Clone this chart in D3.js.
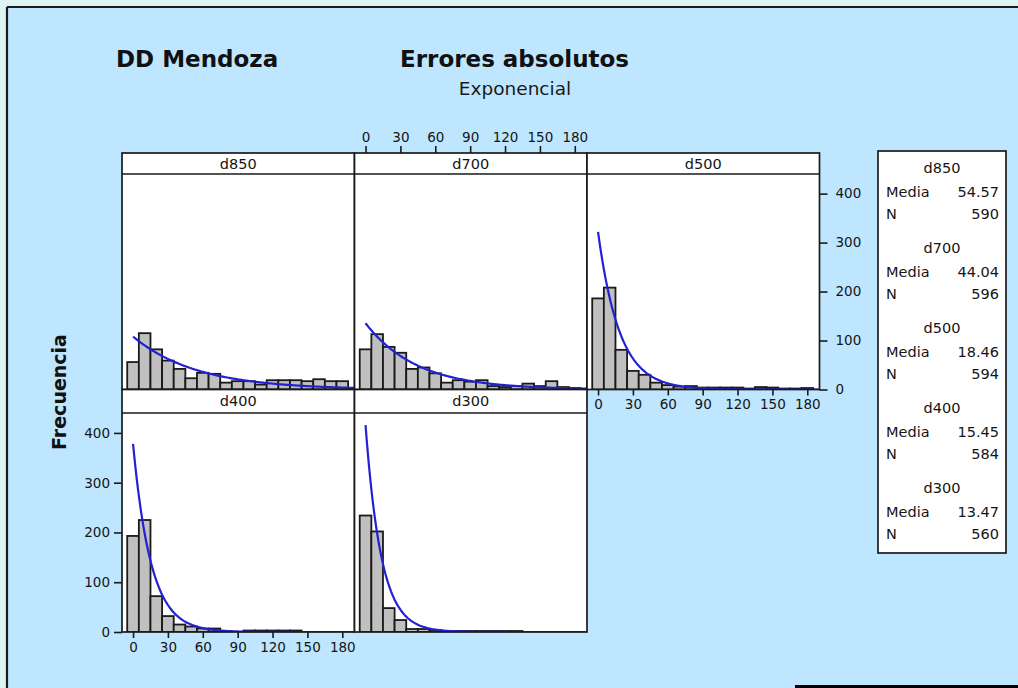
<!DOCTYPE html>
<html><head><meta charset="utf-8">
<script src="https://cdn.jsdelivr.net/npm/d3@7"></script>
<style>html,body{margin:0;padding:0;background:#ddf5f2;}svg{display:block;}</style>
</head><body>
<svg id="c" width="1018" height="688"></svg>
<script>
// ---------------- data ----------------
const panelNames = ["d850", "d700", "d500", "d400", "d300"];
const binMids = [0, 10, 20, 30, 40, 50, 60, 70, 80, 90, 100, 110, 120, 130, 140, 150, 160, 170, 180];
const countsD850 = [56, 115, 82, 59, 42, 23, 34, 32, 14, 17, 17, 10, 19, 19, 19, 17, 21, 17, 17];
const countsD700 = [82, 113, 87, 75, 42, 45, 33, 14, 19, 16, 19, 7, 5, 7, 12, 7, 17, 5, 3];
const countsD500 = [186, 208, 81, 38, 30, 14, 9, 6, 7, 4, 4, 4, 4, 2, 5, 4, 2, 2, 3];
const countsD400 = [193, 225, 72, 32, 15, 11, 7, 7, 2, 0, 3, 3, 3, 3, 3, 0, 0, 0, 0];
const countsD300 = [234, 202, 48, 24, 6, 6, 4, 2, 2, 2, 2, 2, 2, 2, 0, 0, 0, 0, 0];
const means = [54.57, 44.04, 18.46, 15.45, 13.47];
const ns = [590, 596, 594, 584, 560];
const meanLabels = ["54.57", "44.04", "18.46", "15.45", "13.47"];
const xTicks = [0, 30, 60, 90, 120, 150, 180];
const yTicks = [0, 100, 200, 300, 400];
const binWidth = 10;
const countsAll = [countsD850, countsD700, countsD500, countsD400, countsD300];

// ---------------- layout ----------------
const svg = d3.select("#c");
const FONT = "DejaVu Sans, Verdana, sans-serif";
svg.append("rect").attr("x", 0).attr("y", 0).attr("width", 1018).attr("height", 688).attr("fill", "#ddf5f2");
svg.append("rect").attr("x", 7).attr("y", 7).attr("width", 1011).attr("height", 681).attr("fill", "#bfe6ff");
svg.append("line").attr("x1", 7).attr("x2", 1018).attr("y1", 7).attr("y2", 7).attr("stroke", "#1a1a1a").attr("stroke-width", 2.2);
svg.append("line").attr("x1", 7).attr("x2", 7).attr("y1", 7).attr("y2", 688).attr("stroke", "#1a1a1a").attr("stroke-width", 2.2);
svg.append("rect").attr("x", 795).attr("y", 685).attr("width", 223).attr("height", 3).attr("fill", "#000");

// titles
svg.append("text").attr("x", 116).attr("y", 67).attr("font-family", FONT).attr("font-weight", "bold")
  .attr("font-size", 23).attr("fill", "#111").text("DD Mendoza");
svg.append("text").attr("x", 400).attr("y", 67).attr("font-family", FONT).attr("font-weight", "bold")
  .attr("font-size", 23).attr("fill", "#111").text("Errores absolutos");
svg.append("text").attr("x", 515).attr("y", 95).attr("text-anchor", "middle").attr("font-family", FONT)
  .attr("font-size", 18.5).attr("fill", "#1a1a1a").text("Exponencial");
svg.append("text").attr("transform", "translate(66,392) rotate(-90)").attr("text-anchor", "middle")
  .attr("font-family", FONT).attr("font-weight", "bold").attr("font-size", 19).attr("fill", "#111").text("Frecuencia");

const colLeft = [122, 354.5, 587];
const colW = 232.5;
const rows = [
  { stripTop: 153, plotTop: 174, plotBot: 389.5 },
  { stripTop: 389.5, plotTop: 413, plotBot: 632 }
];
const positions = [[0, 0], [0, 1], [0, 2], [1, 0], [1, 1]];

const defs = svg.append("defs");

function styleAxis(g) {
  g.select(".domain").remove();
  g.selectAll(".tick line").attr("stroke", "#1a1a1a").attr("stroke-width", 1.6);
  g.selectAll(".tick text").attr("font-family", FONT).attr("font-size", 13.5).attr("fill", "#151515");
}

panelNames.forEach((name, i) => {
  const [r, c] = positions[i];
  const row = rows[r];
  const x0 = colLeft[c];
  const x = d3.scaleLinear().domain([-9.5, 190.5]).range([x0, x0 + colW]);
  const y = d3.scaleLinear().domain([0, 440]).range([row.plotBot, row.plotTop]);
  const g = svg.append("g");

  // strip
  g.append("rect").attr("x", x0).attr("y", row.stripTop).attr("width", colW)
    .attr("height", row.plotTop - row.stripTop).attr("fill", "#fff");
  g.append("text").attr("x", x0 + colW / 2).attr("y", (row.stripTop + row.plotTop) / 2 + 5)
    .attr("text-anchor", "middle").attr("font-family", FONT).attr("font-size", 14.5).attr("fill", "#151515").text(name);
  // plot bg
  g.append("rect").attr("x", x0).attr("y", row.plotTop).attr("width", colW)
    .attr("height", row.plotBot - row.plotTop).attr("fill", "#fff");

  const clipId = "clip" + i;
  defs.append("clipPath").attr("id", clipId).append("rect")
    .attr("x", x0).attr("y", row.plotTop).attr("width", colW).attr("height", row.plotBot - row.plotTop);
  const pg = g.append("g").attr("clip-path", "url(#" + clipId + ")");

  const counts = countsAll[i];
  pg.selectAll("rect.bar").data(binMids.map((m, k) => ({ m, v: counts[k] })).filter(d => d.v > 0))
    .enter().append("rect").attr("class", "bar")
    .attr("x", d => x(d.m - binWidth / 2)).attr("width", d => x(d.m + binWidth / 2) - x(d.m - binWidth / 2))
    .attr("y", d => y(d.v)).attr("height", d => y(0) - y(d.v))
    .attr("fill", "#c0c0c0").attr("stroke", "#1a1a1a").attr("stroke-width", 1.8);

  // fitted exponential density (scaled to counts), from the legend's mean and N
  const scaleK = ns[i] * binWidth / means[i];
  const fit = d3.range(0, 191, 1).map(t => [t, scaleK * Math.exp(-t / means[i])]);
  pg.append("path").datum(fit).attr("fill", "none").attr("stroke", "#2222d2").attr("stroke-width", 2.2)
    .attr("d", d3.line().x(d => x(d[0])).y(d => y(d[1])));

  // frame
  g.append("rect").attr("x", x0).attr("y", row.stripTop).attr("width", colW)
    .attr("height", row.plotBot - row.stripTop).attr("fill", "none").attr("stroke", "#1a1a1a").attr("stroke-width", 1.7);
  g.append("line").attr("x1", x0).attr("x2", x0 + colW).attr("y1", row.plotTop).attr("y2", row.plotTop)
    .attr("stroke", "#1a1a1a").attr("stroke-width", 1.7);

  // axes
  if (name === "d700") {
    const ax = svg.append("g").attr("transform", `translate(0,${row.stripTop})`)
      .call(d3.axisTop(x).tickValues(xTicks).tickSize(7).tickPadding(4));
    styleAxis(ax);
  }
  if (name === "d500" || name === "d400") {
    const ax = svg.append("g").attr("transform", `translate(0,${row.plotBot})`)
      .call(d3.axisBottom(x).tickValues(xTicks).tickSize(6).tickPadding(4));
    styleAxis(ax);
  }
  if (name === "d500") {
    const ax = svg.append("g").attr("transform", `translate(${x0 + colW},0)`)
      .call(d3.axisRight(y).tickValues(yTicks).tickSize(8).tickPadding(8));
    styleAxis(ax);
  }
  if (name === "d400") {
    const ax = svg.append("g").attr("transform", `translate(${x0},0)`)
      .call(d3.axisLeft(y).tickValues(yTicks).tickSize(8).tickPadding(4));
    styleAxis(ax);
  }
});

// legend box
const lg = svg.append("g");
lg.append("rect").attr("x", 878).attr("y", 151).attr("width", 128).attr("height", 402)
  .attr("fill", "#fff").attr("stroke", "#1a1a1a").attr("stroke-width", 1.7);
panelNames.forEach((name, i) => {
  const cy = 168 + 80 * i;
  lg.append("text").attr("x", 942).attr("y", cy + 5).attr("text-anchor", "middle")
    .attr("font-family", FONT).attr("font-size", 14.5).attr("fill", "#151515").text(name);
  lg.append("text").attr("x", 886).attr("y", cy + 28.5).attr("font-family", FONT).attr("font-size", 14.5)
    .attr("fill", "#151515").text("Media");
  lg.append("text").attr("x", 999).attr("y", cy + 28.5).attr("text-anchor", "end").attr("font-family", FONT)
    .attr("font-size", 14.5).attr("fill", "#151515").text(meanLabels[i]);
  lg.append("text").attr("x", 886).attr("y", cy + 51).attr("font-family", FONT).attr("font-size", 14.5)
    .attr("fill", "#151515").text("N");
  lg.append("text").attr("x", 999).attr("y", cy + 51).attr("text-anchor", "end").attr("font-family", FONT)
    .attr("font-size", 14.5).attr("fill", "#151515").text(ns[i]);
});
</script>
</body></html>
